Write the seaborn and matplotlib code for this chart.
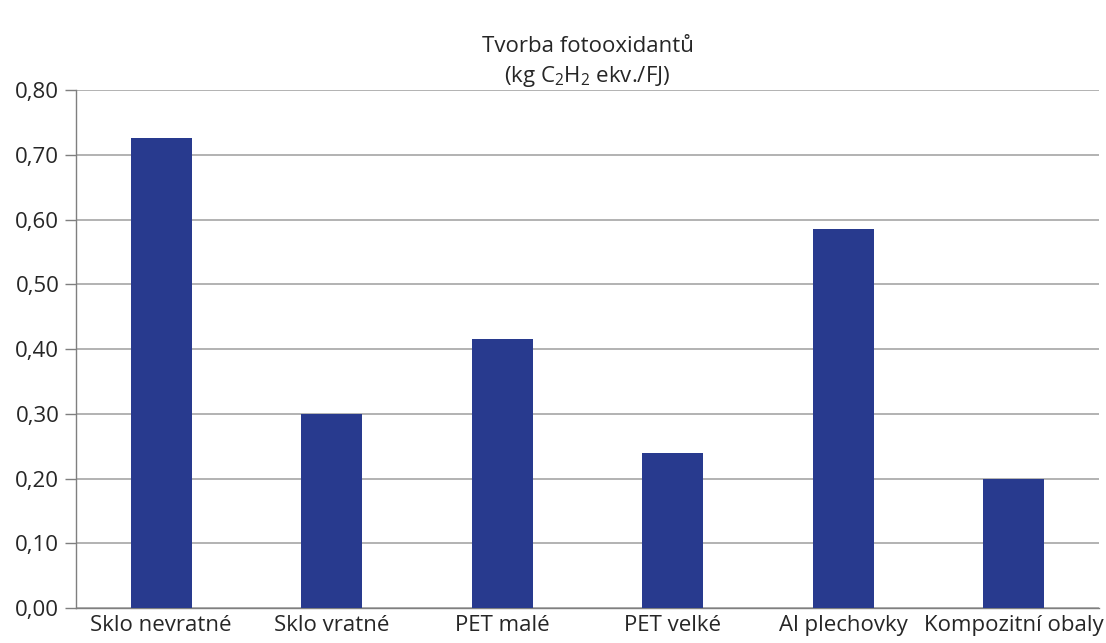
import matplotlib
matplotlib.use("Agg")
import matplotlib.pyplot as plt
import numpy as np
import pandas as pd
import seaborn as sns

categories = ["Sklo nevratné", "Sklo vratné", "PET malé", "PET velké", "Al plechovky", "Kompozitní obaly"]
values = [0.726, 0.300, 0.416, 0.239, 0.586, 0.199]
yticks = [0.0, 0.1, 0.2, 0.3, 0.4, 0.5, 0.6, 0.7, 0.8]

df = pd.DataFrame({"obal": categories, "hodnota": values})

sns.set_style("white")
plt.rcParams['font.family'] = ['Open Sans', 'DejaVu Sans']
plt.rcParams['mathtext.fontset'] = 'custom'
plt.rcParams['mathtext.rm'] = 'Open Sans'
plt.rcParams['mathtext.default'] = 'regular'

fig = plt.figure(figsize=(11.06, 6.43), dpi=100)
ax = fig.add_axes([0.0687, 0.0544, 0.925, 0.8056])

sns.barplot(data=df, x="obal", y="hodnota", ax=ax, color="#283A8E", width=0.36,
            saturation=1, linewidth=0, zorder=3)

ax.set_ylim(0, 0.8)
ax.set_xlim(-0.5, len(categories) - 0.5)
ax.set_yticks(yticks)
ax.set_yticklabels([f"{v:.2f}".replace(".", ",") for v in yticks], fontsize=16)
ax.yaxis.grid(True, color="#a6a6a6", linewidth=1.2, zorder=0)
ax.set_axisbelow(True)

# tick marks between categories
ax.set_xticks(np.arange(len(categories)))
ax.set_xticklabels(categories, fontsize=16)
ax.set_xticks(np.arange(len(categories) + 1) - 0.5, minor=True)
ax.tick_params(axis='x', which='major', length=0, pad=5)
ax.tick_params(axis='x', which='minor', length=5, width=1, color="#7f7f7f", direction='out')
ax.tick_params(axis='y', length=8, width=1, color="#7f7f7f", direction='out', left=True, pad=4)

for s in ["top", "right"]:
    ax.spines[s].set_visible(False)
for s in ["left", "bottom"]:
    ax.spines[s].set_color("#7f7f7f")
    ax.spines[s].set_linewidth(1)

ax.set_xlabel("")
ax.set_ylabel("")
ax.set_title("Tvorba fotooxidantů\n(kg C$_2$H$_2$ ekv./FJ)", fontsize=16, pad=6, linespacing=1.35)

fig.savefig("out.png", dpi=100)
